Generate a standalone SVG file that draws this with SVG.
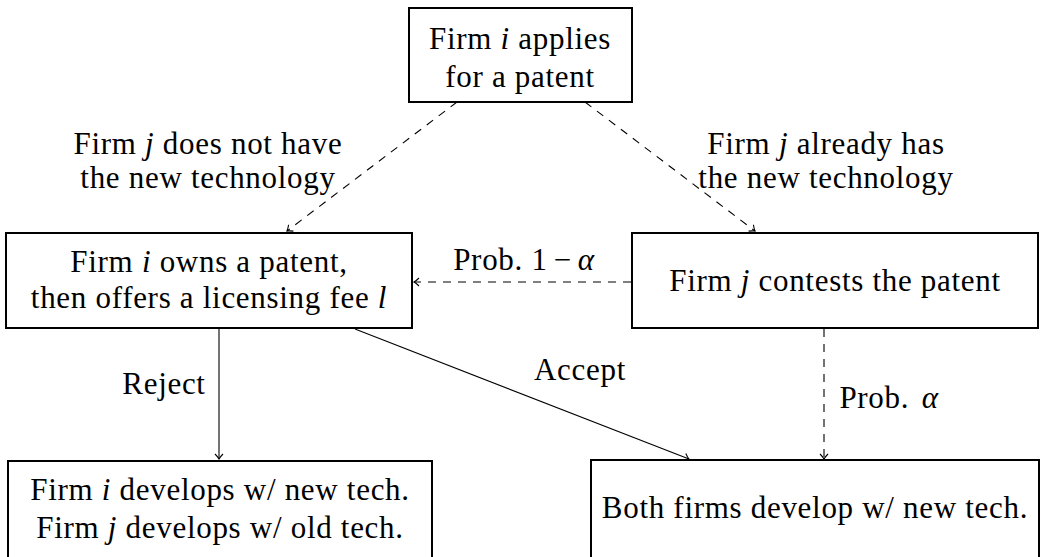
<svg xmlns="http://www.w3.org/2000/svg" width="1045" height="557" viewBox="0 0 1045 557">
  <style>
    text { font-family: "Liberation Serif", "DejaVu Serif", serif; font-size: 31px; letter-spacing: 0.7px; fill: #000; text-anchor: middle; }
    .m { font-style: italic; }
    .box { fill: #fff; stroke: #000; stroke-width: 2; }
    .edge { fill: none; stroke: #000; stroke-width: 1.1; }
    .dash { stroke-dasharray: 8 7; }
  </style>
  <defs>
    <marker id="arr" viewBox="-6 -5 8 10" refX="0" refY="0" markerWidth="8" markerHeight="10" markerUnits="userSpaceOnUse" orient="auto">
      <path d="M -5 -4 Q -2 -1 0 0 Q -2 1 -5 4" fill="none" stroke="#000" stroke-width="1.1"/>
    </marker>
  </defs>

  <!-- connectors -->
  <g id="connectors">
    <line class="edge dash" x1="457" y1="102" x2="287" y2="231" marker-end="url(#arr)"/>
    <line class="edge dash" x1="585" y1="102" x2="755" y2="231" marker-end="url(#arr)"/>
    <line class="edge dash" x1="631" y1="282" x2="414" y2="282" marker-end="url(#arr)"/>
    <line class="edge" x1="219" y1="329" x2="219" y2="459" marker-end="url(#arr)"/>
    <line class="edge" x1="355" y1="329" x2="689" y2="459" marker-end="url(#arr)"/>
    <line class="edge dash" x1="824" y1="329" x2="824" y2="459" marker-end="url(#arr)"/>
    <text x="208" y="154">Firm <tspan class="m">j</tspan> does not have</text>
    <text x="208" y="188">the new technology</text>
    <text x="826" y="154">Firm <tspan class="m">j</tspan> already has</text>
    <text x="826" y="188">the new technology</text>
    <text x="524" y="270">Prob.  1<tspan dx="6">−</tspan><tspan class="m" dx="6">α</tspan></text>
    <text x="164" y="394">Reject</text>
    <text x="580" y="380">Accept</text>
    <text x="889" y="408">Prob. <tspan class="m" dx="4">α</tspan></text>
  </g>

  <g id="apply">
    <rect class="box" x="409" y="8" width="223" height="94"/>
    <text x="520" y="49">Firm <tspan class="m">i</tspan> applies</text>
    <text x="520" y="87">for a patent</text>
  </g>

  <g id="owns">
    <rect class="box" x="6" y="233" width="406" height="95"/>
    <text x="209" y="272">Firm <tspan class="m">i</tspan> owns a patent,</text>
    <text x="209" y="308">then offers a licensing fee <tspan class="m">l</tspan></text>
  </g>

  <g id="contests">
    <rect class="box" x="632" y="233" width="406" height="95"/>
    <text x="835" y="291">Firm <tspan class="m">j</tspan> contests the patent</text>
  </g>

  <g id="reject-outcome">
    <rect class="box" x="8" y="461" width="424" height="100"/>
    <text x="220" y="500">Firm <tspan class="m">i</tspan> develops w/ new tech.</text>
    <text x="220" y="538">Firm <tspan class="m">j</tspan> develops w/ old tech.</text>
  </g>

  <g id="both-new">
    <rect class="box" x="591" y="460" width="448" height="101"/>
    <text x="815" y="518">Both firms develop w/ new tech.</text>
  </g>
</svg>
